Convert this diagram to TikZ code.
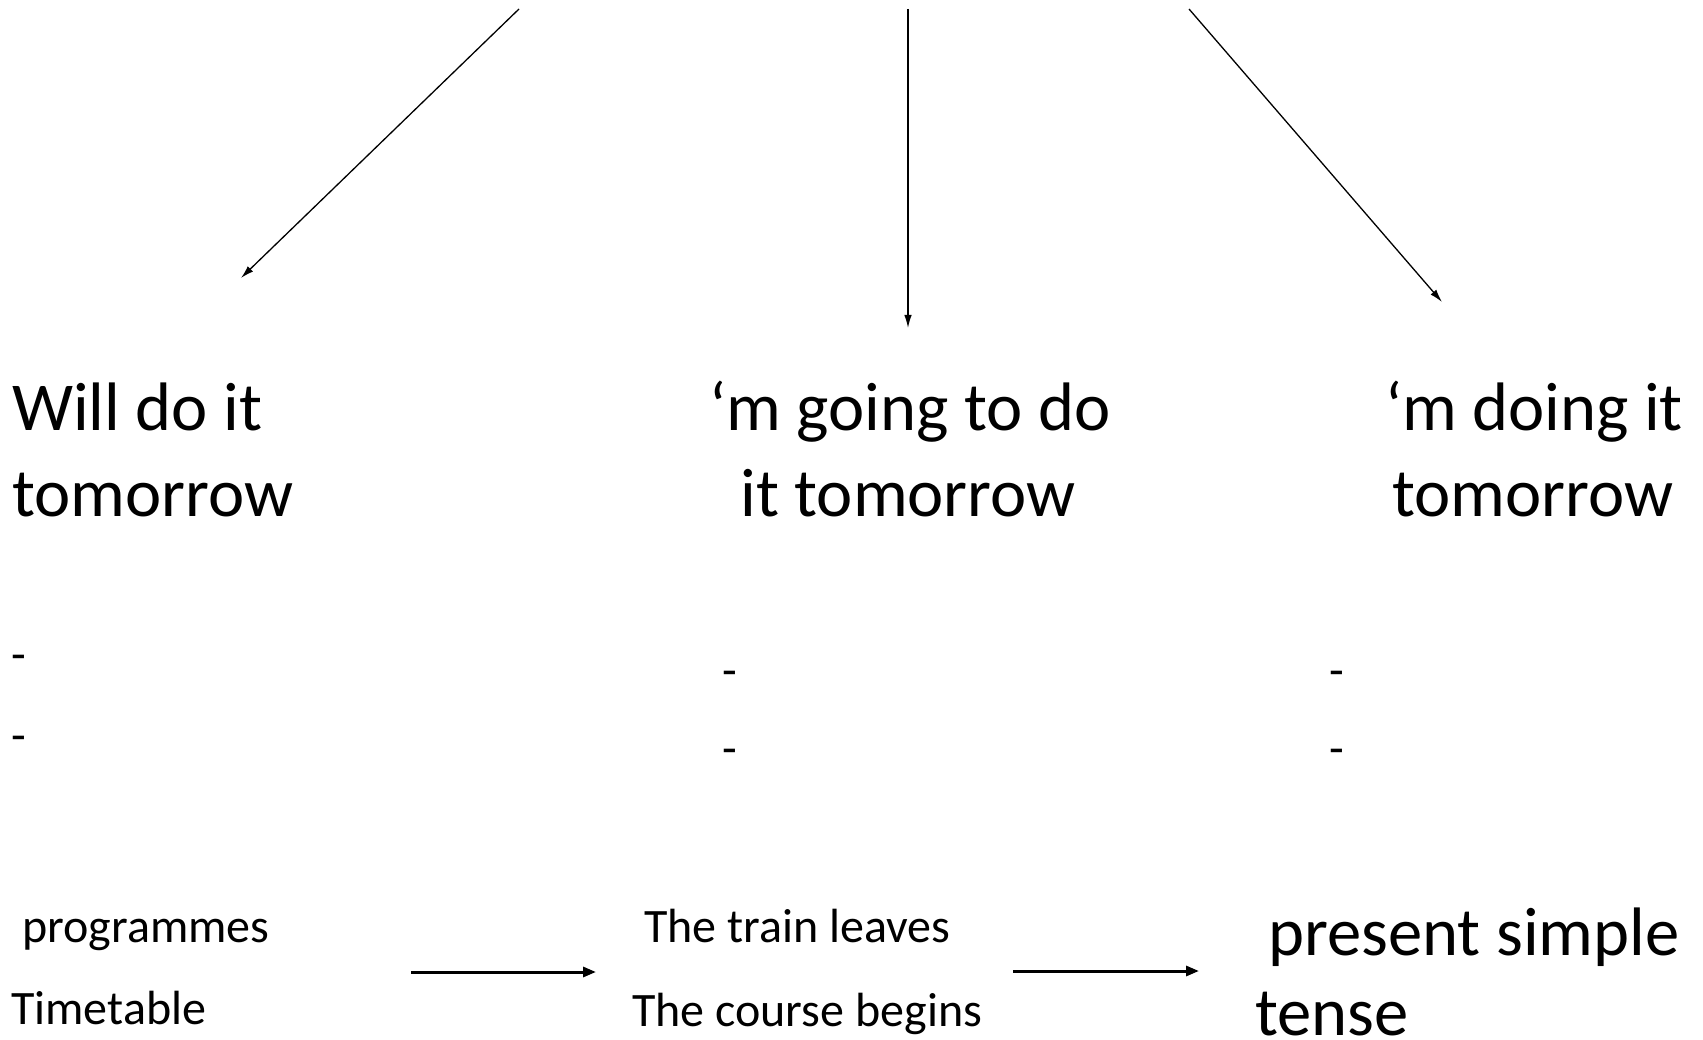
\documentclass[tikz,border=0pt]{standalone}
\usepackage{fontspec}
\setmainfont{Carlito}
\usetikzlibrary{arrows.meta}
\tikzset{
  big/.style={inner sep=0pt, font=\fontsize{68.6}{85}\selectfont},
  small/.style={inner sep=0pt, font=\fontsize{48}{59}\selectfont},
  thinarrow/.style={line width=1.3pt, -{Latex[length=13pt,width=7.5pt]}},
  thickarrow/.style={line width=3pt, -{Triangle[length=13pt,width=10pt]}}
}
\begin{document}
\begin{tikzpicture}[x=1pt,y=-1pt]
\useasboundingbox (0,0) rectangle (1703,1040);
% top arrows
\coordinate (t1) at (519,9);
\coordinate (h1) at (241,278);
\coordinate (t2) at (908,9);
\coordinate (h2) at (908,328);
\coordinate (t3) at (1189,9);
\coordinate (h3) at (1442,302);
\draw[thinarrow] (t1) -- (h1);
\draw[thinarrow] (t2) -- (h2);
\draw[thinarrow] (t3) -- (h3);
% headings
\node[big, anchor=base west] (wa) at (12,431) {Will do it};
\node[big, anchor=base west] (wb) at (12,516) {tomorrow};
\node[big, anchor=base] (ga) at (910,431) {‘m going to do};
\node[big, anchor=base] (gb) at (908,516) {it tomorrow};
\node[big, anchor=base] (da) at (1534,431) {‘m doing it};
\node[big, anchor=base] (db) at (1533,516) {tomorrow};
% dashes
\node[small, anchor=base west] (d1a) at (11,670) {-};
\node[small, anchor=base west] (d1b) at (11,751) {-};
\node[small, anchor=base west] (d2a) at (722,686) {-};
\node[small, anchor=base west] (d2b) at (722,764) {-};
\node[small, anchor=base west] (d3a) at (1329,686) {-};
\node[small, anchor=base west] (d3b) at (1329,764) {-};
% bottom
\node[small, anchor=base west] (pr) at (22,942) {programmes};
\node[small, anchor=base west] (tt) at (11,1024) {Timetable};
\node[small, anchor=base west] (tl) at (644,942) {The train leaves};
\node[small, anchor=base west] (cb) at (632,1026) {The course begins};
\node[big, anchor=base west] (ps) at (1268,955) {present simple};
\node[big, anchor=base west] (te) at (1255,1035) {tense};
\coordinate (a1s) at (411,972);
\coordinate (a1e) at (596,972);
\coordinate (a2s) at (1013,971);
\coordinate (a2e) at (1199,971);
\draw[thickarrow] (a1s) -- (a1e);
\draw[thickarrow] (a2s) -- (a2e);
\end{tikzpicture}
\end{document}
